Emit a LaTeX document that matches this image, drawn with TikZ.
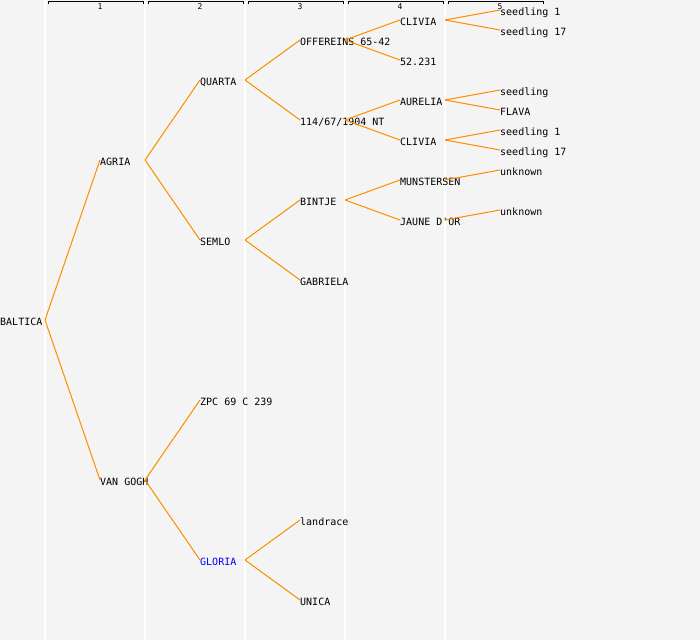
\documentclass[tikz,border=0pt]{standalone}
\usepackage{fontspec}
\setmonofont{DejaVu Sans Mono}
\usetikzlibrary{calc}
\definecolor{bggrey}{HTML}{F4F4F4}
\definecolor{linkorange}{HTML}{FF8C00}
\definecolor{namblue}{HTML}{0000FF}
\tikzset{
	plant/.style={anchor=west, inner sep=0pt, text height=11.3bp, text depth=0pt,
		font=\fontsize{10bp}{12bp}\selectfont\ttfamily},
	link/.style={draw=linkorange, line width=1bp},
	gen/.style={font=\fontsize{8bp}{9bp}\selectfont\ttfamily, inner sep=0pt},
	bracket/.style={draw=black, line width=1bp},
	colline/.style={draw=white, line width=1.2bp}
}
\begin{document}
\begin{tikzpicture}[x=1bp, y=-1bp]
	\fill[bggrey] (0,0) rectangle (700,640);
	\useasboundingbox (0,0) rectangle (700,640);
	
	% column separators
	\draw[colline] (45,0) -- (45,640);
	\draw[colline] (145,0) -- (145,640);
	\draw[colline] (245,0) -- (245,640);
	\draw[colline] (345,0) -- (345,640);
	\draw[colline] (445,0) -- (445,640);
	
	% generation headers
	\draw[bracket] (48,4.5) -- (48,1.5) -- (143,1.5) -- (143,4.5); \node[gen] (g1) at (100,6.8) {1};
	\draw[bracket] (148,4.5) -- (148,1.5) -- (243,1.5) -- (243,4.5); \node[gen] (g2) at (200,6.8) {2};
	\draw[bracket] (248,4.5) -- (248,1.5) -- (343,1.5) -- (343,4.5); \node[gen] (g3) at (300,6.8) {3};
	\draw[bracket] (348,4.5) -- (348,1.5) -- (443,1.5) -- (443,4.5); \node[gen] (g4) at (400,6.8) {4};
	\draw[bracket] (448,4.5) -- (448,1.5) -- (543,1.5) -- (543,4.5); \node[gen] (g5) at (500,6.8) {5};
	
	% generation 0 and 1
	\node[plant] (baltica) at (0,320) {BALTICA};
	\node[plant] (agria) at (100,160) {AGRIA};
	\node[plant] (vangogh) at (100,480) {VAN GOGH};
	
	% generation 2
	\node[plant] (quarta) at (200,80) {QUARTA};
	\node[plant] (semlo) at (200,240) {SEMLO};
	\node[plant] (zpc) at (200,400) {ZPC 69 C 239};
	\node[plant, text=namblue] (gloria) at (200,560) {GLORIA};
	
	% generation 3
	\node[plant] (offereins) at (300,40) {OFFEREINS 65-42};
	\node[plant] (nt) at (300,120) {114/67/1904 NT};
	\node[plant] (bintje) at (300,200) {BINTJE};
	\node[plant] (gabriela) at (300,280) {GABRIELA};
	\node[plant] (landrace) at (300,520) {landrace};
	\node[plant] (unica) at (300,600) {UNICA};
	
	% generation 4
	\node[plant] (clivia) at (400,20) {CLIVIA};
	\node[plant] (nr) at (400,60) {52.231};
	\node[plant] (aurelia) at (400,100) {AURELIA};
	\node[plant] (cliviab) at (400,140) {CLIVIA};
	\node[plant] (munstersen) at (400,180) {MUNSTERSEN};
	\node[plant] (jaune) at (400,220) {JAUNE D'OR};
	
	% generation 5
	\node[plant] (sone) at (500,10) {seedling 1};
	\node[plant] (sseventeen) at (500,30) {seedling 17};
	\node[plant] (seedling) at (500,90) {seedling};
	\node[plant] (flava) at (500,110) {FLAVA};
	\node[plant] (soneb) at (500,130) {seedling 1};
	\node[plant] (sseventeenb) at (500,150) {seedling 17};
	\node[plant] (unknowna) at (500,170) {unknown};
	\node[plant] (unknownb) at (500,210) {unknown};
	
	% parent links
	\draw[link] ($(baltica.west)+(45,0)$) -- (agria.west);
	\draw[link] ($(baltica.west)+(45,0)$) -- (vangogh.west);
	\draw[link] ($(agria.west)+(45,0)$) -- (quarta.west);
	\draw[link] ($(agria.west)+(45,0)$) -- (semlo.west);
	\draw[link] ($(vangogh.west)+(45,0)$) -- (zpc.west);
	\draw[link] ($(vangogh.west)+(45,0)$) -- (gloria.west);
	\draw[link] ($(quarta.west)+(45,0)$) -- (offereins.west);
	\draw[link] ($(quarta.west)+(45,0)$) -- (nt.west);
	\draw[link] ($(semlo.west)+(45,0)$) -- (bintje.west);
	\draw[link] ($(semlo.west)+(45,0)$) -- (gabriela.west);
	\draw[link] ($(gloria.west)+(45,0)$) -- (landrace.west);
	\draw[link] ($(gloria.west)+(45,0)$) -- (unica.west);
	\draw[link] ($(offereins.west)+(45,0)$) -- (clivia.west);
	\draw[link] ($(offereins.west)+(45,0)$) -- (nr.west);
	\draw[link] ($(nt.west)+(45,0)$) -- (aurelia.west);
	\draw[link] ($(nt.west)+(45,0)$) -- (cliviab.west);
	\draw[link] ($(bintje.west)+(45,0)$) -- (munstersen.west);
	\draw[link] ($(bintje.west)+(45,0)$) -- (jaune.west);
	\draw[link] ($(clivia.west)+(45,0)$) -- (sone.west);
	\draw[link] ($(clivia.west)+(45,0)$) -- (sseventeen.west);
	\draw[link] ($(aurelia.west)+(45,0)$) -- (seedling.west);
	\draw[link] ($(aurelia.west)+(45,0)$) -- (flava.west);
	\draw[link] ($(cliviab.west)+(45,0)$) -- (soneb.west);
	\draw[link] ($(cliviab.west)+(45,0)$) -- (sseventeenb.west);
	\draw[link] ($(munstersen.west)+(45,0)$) -- (unknowna.west);
	\draw[link] ($(jaune.west)+(45,0)$) -- (unknownb.west);
\end{tikzpicture}
\end{document}
